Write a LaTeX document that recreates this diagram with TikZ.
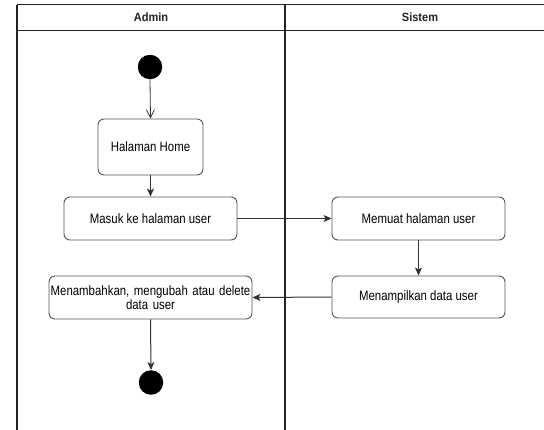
\documentclass[tikz,border=0pt]{standalone}
\usepackage{fontspec}
\setmainfont{Liberation Sans}
\newfontfamily\boxfont[FakeStretch=0.84]{Liberation Sans}
\newfontfamily\headfont[FakeStretch=0.92]{Liberation Sans Bold}
\usetikzlibrary{arrows.meta}
\definecolor{lanecol}{HTML}{222222}
\definecolor{boxcol}{HTML}{555555}
\definecolor{arrcol}{HTML}{333333}
\tikzset{
  lane/.style={draw=lanecol, line width=1.3pt},
  act/.style={draw=boxcol, line width=0.9pt, rounded corners=6pt, fill=white,
    inner sep=0pt, align=center, font=\boxfont\fontsize{13.6}{14}\selectfont},
  dot/.style={circle, fill=black, draw=none, inner sep=0pt, minimum size=24.5pt},
  flow/.style={draw=arrcol, line width=1pt, -{Stealth[length=8pt,width=7pt,inset=2pt]}},
  openflow/.style={draw=arrcol, line width=0.8pt, -{Straight Barb[length=8pt,width=8pt]}},
  head/.style={font=\headfont\fontsize{12}{14}\selectfont, text=lanecol}
}
\begin{document}
\begin{tikzpicture}[x=1pt,y=-1pt]
\useasboundingbox (0,0) rectangle (544,429);
% swimlanes
\draw[lane] (17,4.5) -- (548,4.5);
\draw[lane] (17,30.5) -- (548,30.5);
\draw[lane] (17,4.5) -- (17,433);
\draw[lane] (285,4.5) -- (285,433);
\node[head] (hadmin) at (151,17.5) {Admin};
\node[head] (hsistem) at (420,17.5) {Sistem};
% nodes
\node[dot] (start) at (150,67) {};
\node[act, minimum width=105pt, minimum height=56pt] (home) at (150.5,147) {Halaman Home};
\node[act, minimum width=173pt, minimum height=43pt] (masuk) at (150.5,218.5) {Masuk ke halaman user};
\node[act, minimum width=173pt, minimum height=43pt] (memuat) at (418.5,218.5) {Memuat halaman user};
\node[act, minimum width=173pt, minimum height=42pt] (tampil) at (418.5,297) {Menampilkan data user};
\node[act, minimum width=203pt, minimum height=43pt, text width=203pt] (tambah) at (150.5,297.5) {Menambahkan, mengubah atau delete\\data user};
\node[dot] (end) at (151,382.5) {};
% connectors
\draw[openflow] (start.south) -- (home.north);
\draw[flow] (home.south) -- (masuk.north);
\draw[flow] (masuk.east) -- (memuat.west);
\draw[flow] (memuat.south) -- (tampil.north);
\draw[flow] (tampil.west) -- (tambah.east);
\draw[flow] (tambah.south) -- (end.north);
\end{tikzpicture}
\end{document}
